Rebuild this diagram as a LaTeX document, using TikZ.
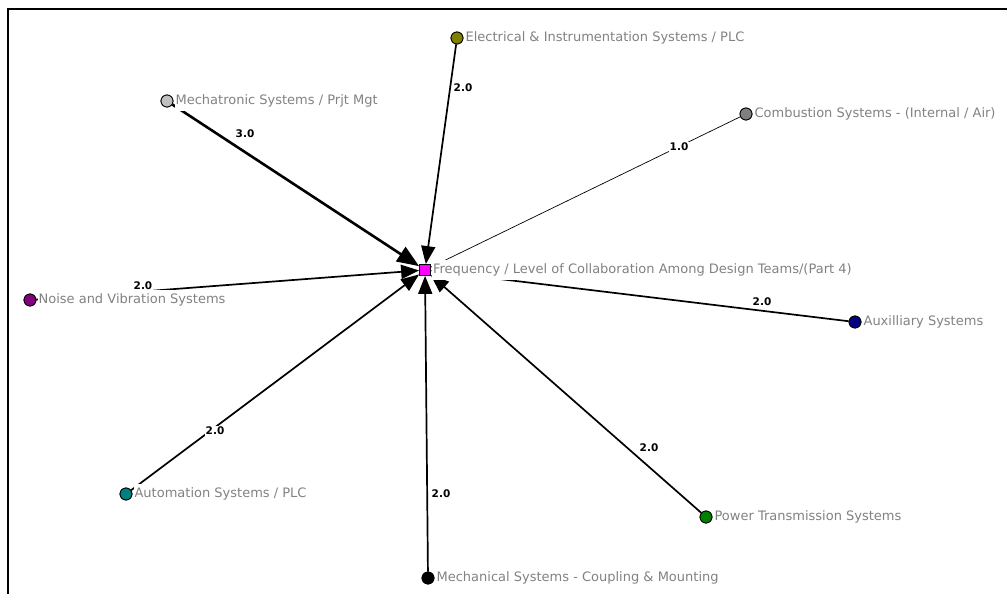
\documentclass[tikz,border=0pt]{standalone}
\usepackage{fontspec}
\setmainfont{DejaVu Sans}
\usetikzlibrary{arrows.meta}

\definecolor{vOlive}{RGB}{128,128,0}
\definecolor{vSilver}{RGB}{192,192,192}
\definecolor{vGray}{RGB}{128,128,128}
\definecolor{vPurple}{RGB}{128,0,128}
\definecolor{vNavy}{RGB}{0,0,128}
\definecolor{vTeal}{RGB}{0,128,128}
\definecolor{vGreen}{RGB}{0,128,0}
\definecolor{vMagenta}{RGB}{255,0,255}
\definecolor{labelgray}{RGB}{130,130,130}

\tikzset{
  vert/.style={circle, draw=black, line width=0.8pt, minimum size=12pt, inner sep=0pt},
  hub/.style={rectangle, draw=black, line width=0.8pt, fill=vMagenta, minimum size=11pt, inner sep=0pt},
  vlabel/.style={anchor=west, text=labelgray, font=\fontsize{13}{15}\selectfont,
                 fill=white, inner xsep=1pt, inner ysep=3.5pt},
  wlabel/.style={font=\bfseries\fontsize{10.5}{12}\selectfont, fill=white, inner sep=1pt},
  tieTwo/.style={line width=1.7pt, -{Triangle[length=18pt,width=14pt]}},
  tieThree/.style={line width=2.6pt, -{Triangle[length=22pt,width=17pt]}},
  tieOne/.style={line width=0.7pt}
}

\begin{document}
\begin{tikzpicture}[x=1pt,y=-1pt]
\useasboundingbox (0,0) rectangle (1007,594);
% frame on the top and left sides
\draw[line width=1.2pt] (8,594) -- (8,9) -- (1007,9);

% vertices
\node[hub] (hub) at (425,270) {};
\node[vert, fill=vOlive]  (elec) at (457,38) {};
\node[vert, fill=vSilver] (mech) at (167,101) {};
\node[vert, fill=vGray]   (comb) at (746,114) {};
\node[vert, fill=vPurple] (noise) at (30,300) {};
\node[vert, fill=vNavy]   (aux) at (855,322) {};
\node[vert, fill=vTeal]   (auto) at (126,494) {};
\node[vert, fill=black]   (mount) at (428,578) {};
\node[vert, fill=vGreen]  (power) at (706,517) {};

% ties
\draw[tieTwo]   (elec)  -- (hub);
\draw[tieThree] (mech)  -- (hub);
\draw[tieOne]   (hub)   -- (comb);
\draw[tieTwo]   (noise) -- (hub);
\draw[tieTwo]   (aux)   -- (hub);
\draw[tieTwo]   (auto)  -- (hub);
\draw[tieTwo]   (mount) -- (hub);
\draw[tieTwo]   (power) -- (hub);

% tie weights
\node[wlabel] (w1) at (463,88) {2.0};
\node[wlabel] (w2) at (245,134) {3.0};
\node[wlabel] (w3) at (679,147) {1.0};
\node[wlabel] (w4) at (143,286) {2.0};
\node[wlabel] (w5) at (762,302) {2.0};
\node[wlabel] (w6) at (215,431) {2.0};
\node[wlabel] (w7) at (441,494) {2.0};
\node[wlabel] (w8) at (649,448) {2.0};

% vertex labels
\node[vlabel] (lhub)   at ([xshift=1pt]hub.east)   {Frequency / Level of Collaboration Among Design Teams/(Part 4)};
\node[vlabel] (lelec)  at ([xshift=1pt]elec.east)  {Electrical \& Instrumentation Systems / PLC};
\node[vlabel] (lmech)  at ([xshift=1pt]mech.east)  {Mechatronic Systems / Prjt Mgt};
\node[vlabel] (lcomb)  at ([xshift=1pt]comb.east)  {Combustion Systems - (Internal / Air)};
\node[vlabel] (lnoise) at ([xshift=1pt]noise.east) {Noise and Vibration Systems};
\node[vlabel] (laux)   at ([xshift=1pt]aux.east)   {Auxilliary Systems};
\node[vlabel] (lauto)  at ([xshift=1pt]auto.east)  {Automation Systems / PLC};
\node[vlabel] (lmount) at ([xshift=1pt]mount.east) {Mechanical Systems - Coupling \& Mounting};
\node[vlabel] (lpower) at ([xshift=1pt]power.east) {Power Transmission Systems};

% redraw vertices above their labels
\node[hub] at (hub) {};
\node[vert, fill=vOlive]  at (elec) {};
\node[vert, fill=vSilver] at (mech) {};
\node[vert, fill=vGray]   at (comb) {};
\node[vert, fill=vPurple] at (noise) {};
\node[vert, fill=vNavy]   at (aux) {};
\node[vert, fill=vTeal]   at (auto) {};
\node[vert, fill=black]   at (mount) {};
\node[vert, fill=vGreen]  at (power) {};
\end{tikzpicture}
\end{document}
